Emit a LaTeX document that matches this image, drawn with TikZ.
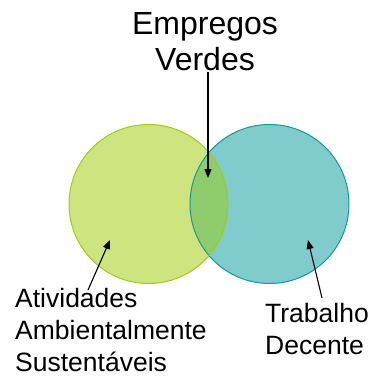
\documentclass[tikz,border=0pt]{standalone}
\usepackage{fontspec}
\setmainfont{Liberation Sans}
\usetikzlibrary{positioning,arrows.meta}

\definecolor{limefill}{RGB}{206,228,126}
\definecolor{limeline}{RGB}{160,204,20}
\definecolor{tealfill}{RGB}{128,204,204}
\definecolor{tealline}{RGB}{20,154,154}
\definecolor{mixfill}{RGB}{143,204,108}

\tikzset{
  set/.style={circle, minimum size=159pt, inner sep=0pt, line width=1pt},
  label/.style={inner sep=0pt, align=left, anchor=north west, font=\fontsize{26.5}{32}\selectfont},
  pointer/.style={-{Triangle[length=9pt,width=7pt]}, line width=1.1pt}
}

\begin{document}
\begin{tikzpicture}[x=1pt,y=-1pt]
\useasboundingbox (0,0) rectangle (372,376);
% Nodes
\node(A)[set, fill=limefill] at (148.5,204) {};
\node(T)[set, fill=tealfill] at (269.5,204) {};
\begin{scope}
  \clip (148.5,204) circle (79.5pt);
  \fill[mixfill] (269.5,204) circle (79.5pt);
\end{scope}
\node[set, draw=tealline] at (T) {};
\node[set, draw=limeline] at (A) {};
\node(E)[inner sep=0pt, align=center, anchor=north, font=\fontsize{32}{36}\selectfont] at (205,12) {Empregos\\Verdes};
\node(S)[label] at (15,288) {Atividades\\Ambientalmente\\Sustentáveis};
\node(D)[label] at (265,303) {Trabalho\\Decente};
\coordinate(e) at (208,178);
\coordinate(s) at (110,240);
\coordinate(d) at (308,240);
% Arcs
\draw[pointer] ([xshift=3pt,yshift=-1pt]E.south) -- (e);
\draw[pointer] ([xshift=73pt,yshift=-2pt]S.north west) -- (s);
\draw[pointer] ([xshift=57pt,yshift=5pt]D.north west) -- (d);
\end{tikzpicture}
\end{document}
